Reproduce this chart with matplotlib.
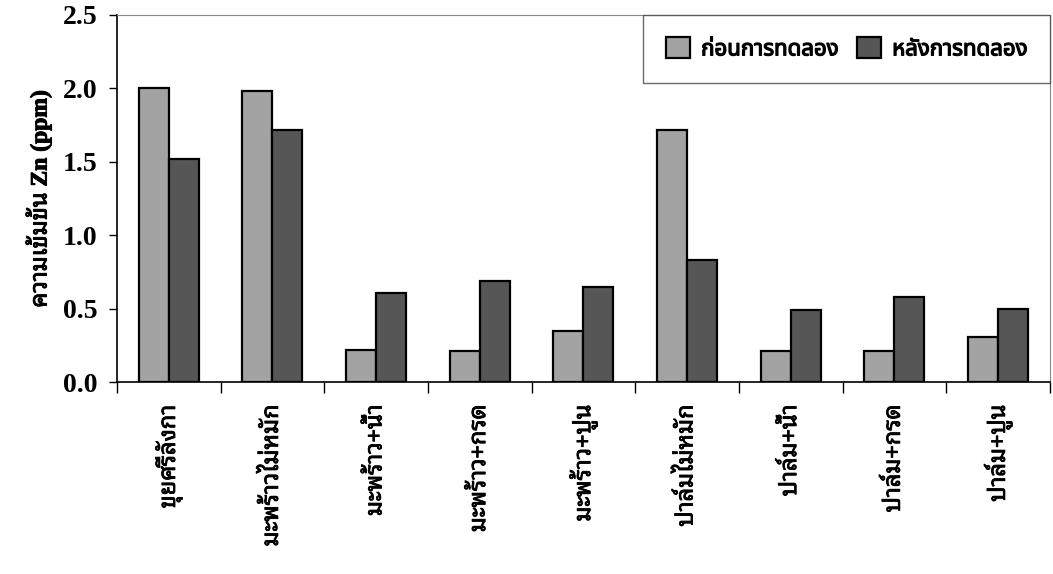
import numpy as np
import matplotlib
matplotlib.use('Agg')
import matplotlib.pyplot as plt
import matplotlib.patheffects as pe
from matplotlib import font_manager
from matplotlib.ft2font import FT2Font

categories = ['ขุยศรีลังกา', 'มะพร้าวไม่หมัก', 'มะพร้าว+น้ำ', 'มะพร้าว+กรด', 'มะพร้าว+ปูน',
              'ปาล์มไม่หมัก', 'ปาล์ม+น้ำ', 'ปาล์ม+กรด', 'ปาล์ม+ปูน']
before = [2.00, 1.98, 0.22, 0.21, 0.35, 1.72, 0.21, 0.21, 0.31]
after = [1.52, 1.72, 0.61, 0.69, 0.65, 0.83, 0.49, 0.58, 0.50]
series_names = ['ก่อนการทดลอง', 'หลังการทดลอง']
yticks = [0.0, 0.5, 1.0, 1.5, 2.0, 2.5]


# หาฟอนต์ที่มีอักษรไทย
def find_thai_fonts():
    found = []
    for f in font_manager.fontManager.ttflist:
        try:
            if 0x0E01 in FT2Font(f.fname).get_charmap():
                found.append(f.name)
        except Exception:
            pass
    return sorted(set(found))


def pick(names, prefs):
    for p in prefs:
        for n in names:
            if p.lower() in n.lower():
                return n
    return names[0] if names else 'DejaVu Sans'


thai_fonts = find_thai_fonts()
print('thai fonts:', thai_fonts)
thai_loop = pick([n for n in thai_fonts if 'looped' in n.lower()] or thai_fonts,
                 ['Noto Sans Thai Looped', 'Noto Serif Thai', 'Norasi', 'Loma'])
thai_plain = pick([n for n in thai_fonts if 'looped' not in n.lower()] or thai_fonts,
                  ['Noto Sans Thai', 'Tahoma', 'Loma', 'Garuda'])
serif = ['Liberation Serif', thai_loop, 'DejaVu Sans']
sans = [thai_plain, 'DejaVu Sans']

# ตัวหนาเทียม
fake_bold = [pe.withStroke(linewidth=0.9, foreground='black')]

fig = plt.figure(figsize=(10.53, 5.74), dpi=100)
ax = fig.add_axes([0.111, 0.334, 0.886, 0.64])

x = np.arange(len(categories))
w = 0.29
ax.bar(x - w / 2, before, w, color='#a3a3a3', edgecolor='black', linewidth=1.6, label=series_names[0])
ax.bar(x + w / 2, after, w, color='#565656', edgecolor='black', linewidth=1.6, label=series_names[1])

ax.set_xlim(-0.5, len(categories) - 0.5)
ax.set_ylim(0, 2.5)
ax.set_yticks(yticks)
ax.set_yticklabels([f'{v:.1f}' for v in yticks], family=serif, fontsize=20, fontweight='bold')
ax.set_xticks(x)
ax.set_xticklabels(categories, rotation=90, family=serif, fontsize=17, fontweight='bold', va='top')
for t in ax.get_xticklabels():
    t.set_path_effects([pe.withStroke(linewidth=0.6, foreground='black')])
ax.set_xticks(np.arange(len(categories) + 1) - 0.5, minor=True)
ax.tick_params(axis='x', which='major', length=0, pad=16)
ax.tick_params(axis='x', which='minor', length=8, width=1, direction='out')
ax.tick_params(axis='y', length=6, width=1, direction='out', pad=8)

ylab = ax.set_ylabel('ความเข้มข้น Zn (ppm)', family=serif, fontsize=17, fontweight='bold', labelpad=8)
ylab.set_path_effects([pe.withStroke(linewidth=0.7, foreground='black')])

for s in ['top', 'right']:
    ax.spines[s].set_color('#888888')
    ax.spines[s].set_linewidth(0.8)
for s in ['left', 'bottom']:
    ax.spines[s].set_linewidth(1.2)

leg = ax.legend(loc='upper right', ncol=2, frameon=True, fancybox=False, edgecolor='#444444',
                prop={'family': sans, 'size': 16, 'weight': 'bold'}, handlelength=1.1, handleheight=1.1,
                handletextpad=0.5, columnspacing=0.8, borderpad=1.0, borderaxespad=0.0)
leg.get_frame().set_linewidth(1.0)
for t in leg.get_texts():
    t.set_path_effects(fake_bold)

fig.savefig('out.png', dpi=100, facecolor='white')
